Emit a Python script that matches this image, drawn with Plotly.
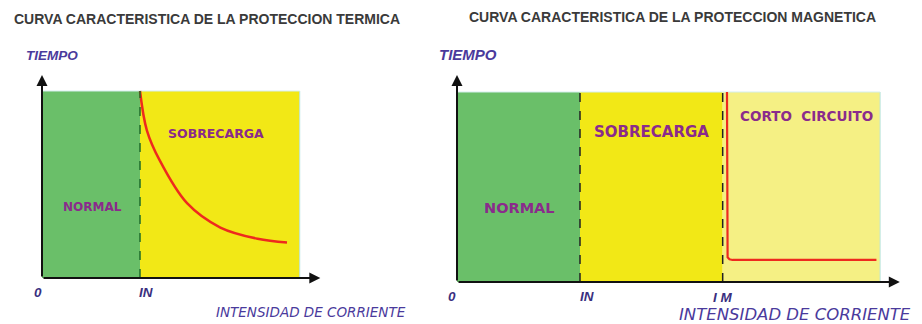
import plotly.graph_objects as go

# curva térmica (unidades: IN = 1, tiempo relativo)
termica_x = [1.0, 1.07, 1.2, 1.48, 1.82, 2.2, 2.5]
termica_y = [1.0, 0.79, 0.63, 0.40, 0.27, 0.21, 0.19]
termica_zonas = [0, 1, 2.63]            # 0, IN, fin
termica_colores = ["#6abf69", "#f2e816"]
termica_textos = ["NORMAL", "SOBRECARGA"]

# curva magnética
magnetica_x = [2.195, 2.195, 2.2, 2.215, 2.24, 3.41]
magnetica_y = [1.0, 0.15, 0.13, 0.12, 0.116, 0.116]
magnetica_zonas = [0, 1, 2.16, 3.44]    # 0, IN, IM, fin
magnetica_colores = ["#6abf69", "#f2e816", "#f5f084"]
magnetica_textos = ["NORMAL", "SOBRECARGA", "CORTO  CIRCUITO"]

titulos = ["CURVA CARACTERISTICA DE LA PROTECCION TERMICA",
           "CURVA CARACTERISTICA DE LA PROTECCION MAGNETICA"]
ticks_termica = ["0", "IN"]
ticks_magnetica = ["0", "IN", "I M"]

PURPLE = "#8a2b8c"
BLUE = "#4a3a9c"
RED = "#ee2a1e"

fig = go.Figure()
fig.add_trace(go.Scatter(x=termica_x, y=termica_y, mode="lines", line_shape="spline",
                         line=dict(color=RED, width=2.5), xaxis="x", yaxis="y",
                         hoverinfo="skip"))
fig.add_trace(go.Scatter(x=magnetica_x, y=magnetica_y, mode="lines",
                         line=dict(color=RED, width=2.2), xaxis="x2", yaxis="y2",
                         hoverinfo="skip"))

shapes = []
annotations = []


def panel(xr, yr, zonas, colores, textos, text_pos, text_sizes, ticks, tick_pos, titulo,
          title_pos, dash_colors, arrow_x, arrow_y, tiempo_pos, tiempo_size, intens_pos,
          intens_size):
    for i, c in enumerate(colores):
        shapes.append(dict(type="rect", xref=xr, yref=yr, x0=zonas[i], x1=zonas[i + 1],
                           y0=0, y1=1, fillcolor=c, layer="below",
                           line=dict(width=0)))
    # borde claro derecho/superior
    shapes.append(dict(type="line", xref=xr, yref=yr, x0=zonas[-1], x1=zonas[-1], y0=0, y1=1,
                       line=dict(color="#b8e4e4", width=1), layer="below"))
    shapes.append(dict(type="line", xref=xr, yref=yr, x0=zonas[0], x1=zonas[-1], y0=1, y1=1,
                       line=dict(color="#d4eeee", width=1), layer="below"))
    for z, dc in zip(zonas[1:-1], dash_colors):
        shapes.append(dict(type="line", xref=xr, yref=yr, x0=z, x1=z, y0=0, y1=1,
                           line=dict(color=dc, width=1.5, dash="dash")))
    # ejes con flecha
    for ax_, ay_, x_, y_ in [(0, 0, 0, arrow_y), (0, 0, arrow_x, 0)]:
        annotations.append(dict(xref=xr, yref=yr, axref=xr, ayref=yr, x=x_, y=y_, ax=ax_, ay=ay_,
                                showarrow=True, arrowhead=2, arrowsize=1.1, arrowwidth=2,
                                arrowcolor="#111111", text=""))
    for t, (px, py), s in zip(textos, text_pos, text_sizes):
        annotations.append(dict(xref=xr, yref=yr, x=px, y=py, text="<b>%s</b>" % t,
                                showarrow=False, font=dict(family="DejaVu Sans", size=s,
                                                           color=PURPLE)))
    for t, (px, py) in zip(ticks, tick_pos):
        annotations.append(dict(xref=xr, yref=yr, x=px, y=py, text="<b><i>%s</i></b>" % t,
                                showarrow=False, font=dict(family="Liberation Sans", size=13.5,
                                                           color="#3a2f80")))
    annotations.append(dict(xref=xr, yref=yr, x=title_pos[0], y=title_pos[1],
                            text="<b>%s</b>" % titulo, showarrow=False,
                            font=dict(family="Liberation Sans", size=14, color="#3a3a3a")))
    annotations.append(dict(xref=xr, yref=yr, x=tiempo_pos[0], y=tiempo_pos[1],
                            text="<b><i>TIEMPO</i></b>", showarrow=False,
                            font=dict(family="Liberation Sans", size=tiempo_size, color=BLUE)))
    annotations.append(dict(xref=xr, yref=yr, x=intens_pos[0], y=intens_pos[1],
                            text="<i>INTENSIDAD DE CORRIENTE</i>", showarrow=False,
                            font=dict(family="DejaVu Sans", size=intens_size, color=BLUE)))


panel("x", "y", termica_zonas, termica_colores, termica_textos,
      [(0.52, 0.38), (1.78, 0.775)], [12, 12.5], ticks_termica,
      [(-0.04, -0.075), (1.06, -0.075)],
      titulos[0], (1.68, 1.385), ["#1e6b2a"], 2.84, 1.085, (0.10, 1.19), 13.5,
      (2.745, -0.18), 13.5)
panel("x2", "y2", magnetica_zonas, magnetica_colores, magnetica_textos,
      [(0.51, 0.39), (1.58, 0.79), (2.84, 0.874)], [14.5, 15, 13.5], ticks_magnetica,
      [(-0.04, -0.074), (1.06, -0.074), (2.16, -0.084)],
      titulos[1], (1.75, 1.395), ["#222222", "#222222"], 3.6, 1.09, (0.09, 1.195), 15,
      (2.75, -0.17), 16.5)

ax_style = dict(showgrid=False, zeroline=False, showticklabels=False, showline=False,
                fixedrange=True)
fig.update_layout(
    width=922, height=324, margin=dict(l=0, r=0, t=0, b=0),
    paper_bgcolor="white", plot_bgcolor="rgba(0,0,0,0)", showlegend=False,
    xaxis=dict(domain=[0, 0.5], range=[-42 / 98, (461 - 42) / 98], **ax_style),
    yaxis=dict(domain=[0, 1], range=[-46 / 187, 278 / 187], **ax_style),
    xaxis2=dict(domain=[0.45, 1], range=[-(457 - 414.9) / 123, (922 - 457) / 123],
                anchor="y2", **ax_style),
    yaxis2=dict(domain=[0, 1], range=[-42 / 190, 282 / 190], anchor="x2", **ax_style),
    shapes=shapes, annotations=annotations,
)

fig.write_html("out.html", config={"displayModeBar": False},
               post_script="document.body.style.margin='0';")
